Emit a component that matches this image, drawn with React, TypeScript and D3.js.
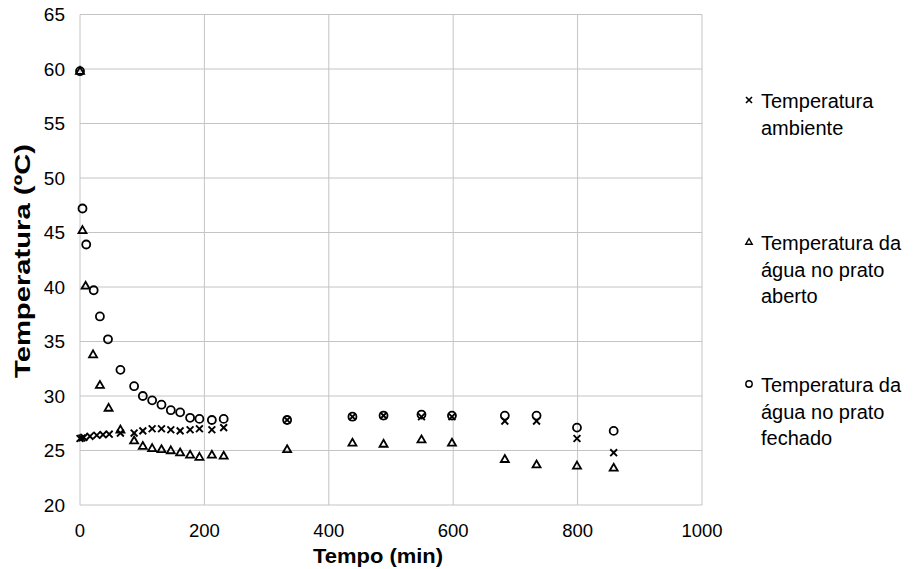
import React from "react";
import * as d3 from "d3";

const xTicks = [0, 200, 400, 600, 800, 1000];
const yTicks = [20, 25, 30, 35, 40, 45, 50, 55, 60, 65];

const ambTime = [0, 3, 6, 16, 27, 37, 47, 65, 87, 101, 116, 131, 146, 161, 177, 192, 212, 231, 333, 438, 488, 549, 598, 683, 734, 799, 858];
const ambTemp = [26.1, 26.15, 26.2, 26.3, 26.4, 26.45, 26.5, 26.6, 26.6, 26.8, 27.0, 27.0, 26.9, 26.8, 26.9, 27.0, 26.9, 27.1, 27.8, 28.1, 28.2, 28.1, 28.1, 27.7, 27.7, 26.1, 24.8];

const openTime = [0, 4, 9, 21, 32, 46, 65, 87, 101, 116, 131, 146, 161, 177, 192, 212, 231, 333, 438, 488, 549, 598, 683, 734, 799, 858];
const openTemp = [59.8, 45.2, 40.1, 33.8, 31.0, 28.9, 26.9, 25.9, 25.4, 25.2, 25.1, 25.0, 24.8, 24.6, 24.4, 24.6, 24.5, 25.1, 25.7, 25.6, 26.0, 25.7, 24.2, 23.7, 23.6, 23.4];

const closedTime = [0, 4, 10, 22, 32, 45, 65, 87, 101, 116, 131, 146, 161, 177, 192, 212, 231, 333, 438, 488, 549, 598, 683, 734, 799, 858];
const closedTemp = [59.8, 47.2, 43.9, 39.7, 37.3, 35.2, 32.4, 30.9, 30.0, 29.6, 29.2, 28.7, 28.5, 28.0, 27.9, 27.8, 27.9, 27.8, 28.1, 28.2, 28.3, 28.2, 28.2, 28.2, 27.1, 26.8];

const legendLines = [
  ["Temperatura", "ambiente"],
  ["Temperatura da", "água no prato", "aberto"],
  ["Temperatura da", "água no prato", "fechado"],
];

const FONT = "'Liberation Sans', Arial, sans-serif";

function Cross({ x, y, s = 3.4, w = 1.9 }: { x: number; y: number; s?: number; w?: number }) {
  return (
    <g stroke="#000" strokeWidth={w}>
      <line x1={x - s} y1={y - s} x2={x + s} y2={y + s} />
      <line x1={x - s} y1={y + s} x2={x + s} y2={y - s} />
    </g>
  );
}
function Tri({ x, y, s = 4, w = 1.8 }: { x: number; y: number; s?: number; w?: number }) {
  const h = s * 1.732;
  return (
    <path
      d={`M${x},${y - h * 0.6}L${x + s},${y + h * 0.4}L${x - s},${y + h * 0.4}Z`}
      fill="none"
      stroke="#000"
      strokeWidth={w}
    />
  );
}
function Circ({ x, y, r = 4, w = 1.8 }: { x: number; y: number; r?: number; w?: number }) {
  return <circle cx={x} cy={y} r={r} fill="none" stroke="#000" strokeWidth={w} />;
}

export default function App() {
  const W = 923, H = 569;
  const L = 80, R = 702, T = 14.5, B = 505;
  const x = d3.scaleLinear().domain([0, 1000]).range([L, R]);
  const y = d3.scaleLinear().domain([20, 65]).range([B, T]);
  const grid = "#c4c4c4";

  const legendGroupsY = [101, 243, 385];
  const lineH = 26.5;

  return (
    <svg width={W} height={H} style={{ position: "absolute", left: 0, top: 0 }} fontFamily={FONT}>
      <rect width={W} height={H} fill="#fff" />
      {yTicks.map((t) => (
        <line key={"h" + t} x1={L} x2={R} y1={y(t)} y2={y(t)} stroke={grid} strokeWidth={1} />
      ))}
      {xTicks.map((t) => (
        <line key={"v" + t} x1={x(t)} x2={x(t)} y1={T} y2={B} stroke={grid} strokeWidth={1} />
      ))}
      {yTicks.map((t) => (
        <text key={"yl" + t} x={65} y={y(t)} dy="0.35em" textAnchor="end" fontSize={19} fill="#000">
          {t}
        </text>
      ))}
      {xTicks.map((t) => (
        <text key={"xl" + t} x={x(t)} y={537} textAnchor="middle" fontSize={18.5} fill="#000">
          {t}
        </text>
      ))}
      <text x={378} y={563} textAnchor="middle" fontSize={21} fontWeight="bold" textLength={130} lengthAdjust="spacingAndGlyphs">
        Tempo (min)
      </text>
      <text transform={`translate(30,${261}) rotate(-90)`} textAnchor="middle" fontSize={22} fontWeight="bold" textLength={234} lengthAdjust="spacingAndGlyphs">
        Temperatura (ºC)
      </text>

      {openTime.map((t, i) => (
        <Tri key={"o" + i} x={x(t)} y={y(openTemp[i])} />
      ))}
      {closedTime.map((t, i) => (
        <Circ key={"c" + i} x={x(t)} y={y(closedTemp[i])} />
      ))}
      {ambTime.map((t, i) => (
        <Cross key={"a" + i} x={x(t)} y={y(ambTemp[i])} />
      ))}

      {legendLines.map((lines, gi) => (
        <g key={"lg" + gi}>
          {gi === 0 && <Cross x={749} y={legendGroupsY[gi] - 1} s={3} w={1.6} />}
          {gi === 1 && <Tri x={749} y={legendGroupsY[gi] - 1} s={3.2} w={1.4} />}
          {gi === 2 && <Circ x={749} y={legendGroupsY[gi] - 1} r={3.2} w={1.4} />}
          {lines.map((s, li) => (
            <text key={li} x={761} y={legendGroupsY[gi] + li * lineH} dy="0.35em" fontSize={20} fill="#000">
              {s}
            </text>
          ))}
        </g>
      ))}
    </svg>
  );
}
